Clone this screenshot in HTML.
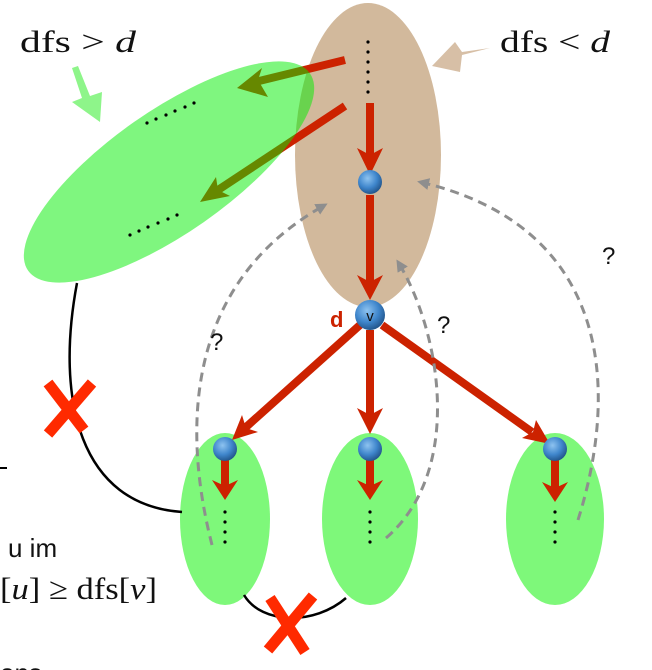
<!DOCTYPE html>
<html><head><meta charset="utf-8"><style>
html,body{margin:0;padding:0;background:#fff;width:652px;height:670px;overflow:hidden}
svg{display:block}
.serif{font-family:"Liberation Serif",serif;font-size:31px;fill:#111}
.sans{font-family:"Liberation Sans",sans-serif;fill:#111}
</style></head><body>
<svg width="652" height="670" viewBox="0 0 652 670" xmlns="http://www.w3.org/2000/svg">
<defs>
<radialGradient id="ball" cx="40%" cy="35%" r="65%">
<stop offset="0" stop-color="#8ec3f0"/><stop offset="0.6" stop-color="#3f86cc"/><stop offset="1" stop-color="#24588f"/>
</radialGradient>
<marker id="gh" markerWidth="12" markerHeight="12" refX="9" refY="6" orient="auto" markerUnits="userSpaceOnUse" viewBox="0 0 12 12">
<path d="M0,0 L12,6 L0,12 Z" fill="#8e8e8e"/>
</marker>
</defs>

<ellipse cx="368" cy="155" rx="73" ry="152" fill="#d2b99c"/>

<ellipse cx="225" cy="519" rx="45" ry="86" fill="#7ef87a"/>
<ellipse cx="370" cy="519" rx="48" ry="86" fill="#7ef87a"/>
<ellipse cx="555" cy="519" rx="49" ry="86" fill="#7ef87a"/>

<path d="M77,283 C55,400 80,505 182,512" stroke="#000" stroke-width="2.5" fill="none"/>
<path d="M244,595 C262,625 315,625 346,598" stroke="#000" stroke-width="2.5" fill="none"/>

<g stroke="#cc2200" stroke-width="8" fill="none">
<line x1="345" y1="60" x2="255" y2="82"/>
<line x1="345" y1="106" x2="215" y2="192"/>
<line x1="370" y1="103" x2="370" y2="160"/>
<line x1="370" y1="195" x2="370" y2="285"/>
<line x1="360" y1="325" x2="245" y2="428"/>
<line x1="370" y1="330" x2="370" y2="420"/>
<line x1="382" y1="325" x2="532" y2="432"/>
<line x1="225" y1="460" x2="225" y2="488"/>
<line x1="370" y1="460" x2="370" y2="488"/>
<line x1="555" y1="460" x2="555" y2="488"/>
</g>
<g fill="#cc2200">
<path d="M237,88 L262,68 L258,80 L268,97 Z"/>
<path d="M200,202 L216,177 L218,190 L230,196 Z"/>
<path d="M370,175 L357,148 L370,155 L383,148 Z"/>
<path d="M370,300 L357,275 L370,282 L383,275 Z"/>
<path d="M232,440 L242,415 L246,428 L258,432 Z"/>
<path d="M370,434 L357,408 L370,415 L383,408 Z"/>
<path d="M550,444 L522,438 L533,432 L536,420 Z"/>
<path d="M225,500 L212,480 L225,486 L238,480 Z"/>
<path d="M370,500 L357,480 L370,486 L383,480 Z"/>
<path d="M555,502 L542,482 L555,488 L568,482 Z"/>
</g>

<ellipse cx="169" cy="172" rx="172" ry="61" transform="rotate(-35 169 172)" fill="rgba(0,238,0,0.5)"/>

<g fill="#000">
<circle cx="368" cy="42" r="1.6"/><circle cx="368" cy="52" r="1.6"/><circle cx="368" cy="62" r="1.6"/><circle cx="368" cy="72" r="1.6"/><circle cx="368" cy="82" r="1.6"/><circle cx="368" cy="92" r="1.6"/>
<circle cx="147" cy="123" r="1.6"/><circle cx="156" cy="119" r="1.6"/><circle cx="166" cy="115" r="1.6"/><circle cx="175" cy="111" r="1.6"/><circle cx="185" cy="107" r="1.6"/><circle cx="194" cy="103" r="1.6"/>
<circle cx="130" cy="235" r="1.6"/><circle cx="139" cy="231" r="1.6"/><circle cx="148" cy="227" r="1.6"/><circle cx="158" cy="223" r="1.6"/><circle cx="168" cy="219" r="1.6"/><circle cx="177" cy="215" r="1.6"/>
<circle cx="225" cy="512" r="1.6"/><circle cx="225" cy="522" r="1.6"/><circle cx="225" cy="532" r="1.6"/><circle cx="225" cy="542" r="1.6"/>
<circle cx="370" cy="512" r="1.6"/><circle cx="370" cy="522" r="1.6"/><circle cx="370" cy="532" r="1.6"/><circle cx="370" cy="542" r="1.6"/>
<circle cx="555" cy="512" r="1.6"/><circle cx="555" cy="522" r="1.6"/><circle cx="555" cy="532" r="1.6"/><circle cx="555" cy="542" r="1.6"/>
</g>

<g stroke="#8e8e8e" stroke-width="3" stroke-dasharray="9,6" fill="none">
<path d="M212,545 C180,420 190,280 325,205" marker-end="url(#gh)"/>
<path d="M386,538 C465,470 440,330 398,262" marker-end="url(#gh)"/>
<path d="M578,520 C622,380 605,225 420,182" marker-end="url(#gh)"/>
</g>

<circle cx="370" cy="182" r="12" fill="url(#ball)"/>
<circle cx="370" cy="315" r="15" fill="url(#ball)"/>
<text x="370" y="321" class="sans" font-size="15" text-anchor="middle">v</text>
<circle cx="225" cy="449" r="12" fill="url(#ball)"/>
<circle cx="370" cy="449" r="12" fill="url(#ball)"/>
<circle cx="555" cy="449" r="12" fill="url(#ball)"/>
<text x="330" y="327" font-family="Liberation Sans,sans-serif" font-weight="bold" font-size="22" fill="#cc2200">d</text>

<path d="M490,48 L462,55 L460,72 L432,66 L455,42 L462,52 Z" fill="#d7bfa6"/>
<path d="M72,68 L82,98 L72,102 L100,122 L102,92 L90,96 L78,66 Z" fill="#8ef58a"/>

<text x="210" y="350" class="sans" font-size="24">?</text>
<text x="437" y="333" class="sans" font-size="24">?</text>
<text x="602" y="264" class="sans" font-size="24">?</text>

<text x="20" y="52" class="serif" textLength="116" lengthAdjust="spacingAndGlyphs">dfs &gt; <tspan font-style="italic">d</tspan></text>
<text x="500" y="52" class="serif" textLength="110" lengthAdjust="spacingAndGlyphs">dfs &lt; <tspan font-style="italic">d</tspan></text>
<text x="8" y="557" class="sans" font-size="26">u im</text>
<text x="0" y="599" class="serif" textLength="157" lengthAdjust="spacingAndGlyphs">[<tspan font-style="italic">u</tspan>] ≥ dfs[<tspan font-style="italic">v</tspan>]</text>
<text x="0" y="682" class="sans" font-size="26">ons</text>
<line x1="0" y1="468" x2="7" y2="468" stroke="#000" stroke-width="2"/>

<g stroke="#ff2a00" stroke-width="11" stroke-linecap="butt">
<line x1="48" y1="383" x2="84" y2="430"/><line x1="92" y1="383" x2="48" y2="434"/>
<line x1="270" y1="598" x2="305" y2="652"/><line x1="313" y1="596" x2="268" y2="650"/>
</g>
</svg>
</body></html>
